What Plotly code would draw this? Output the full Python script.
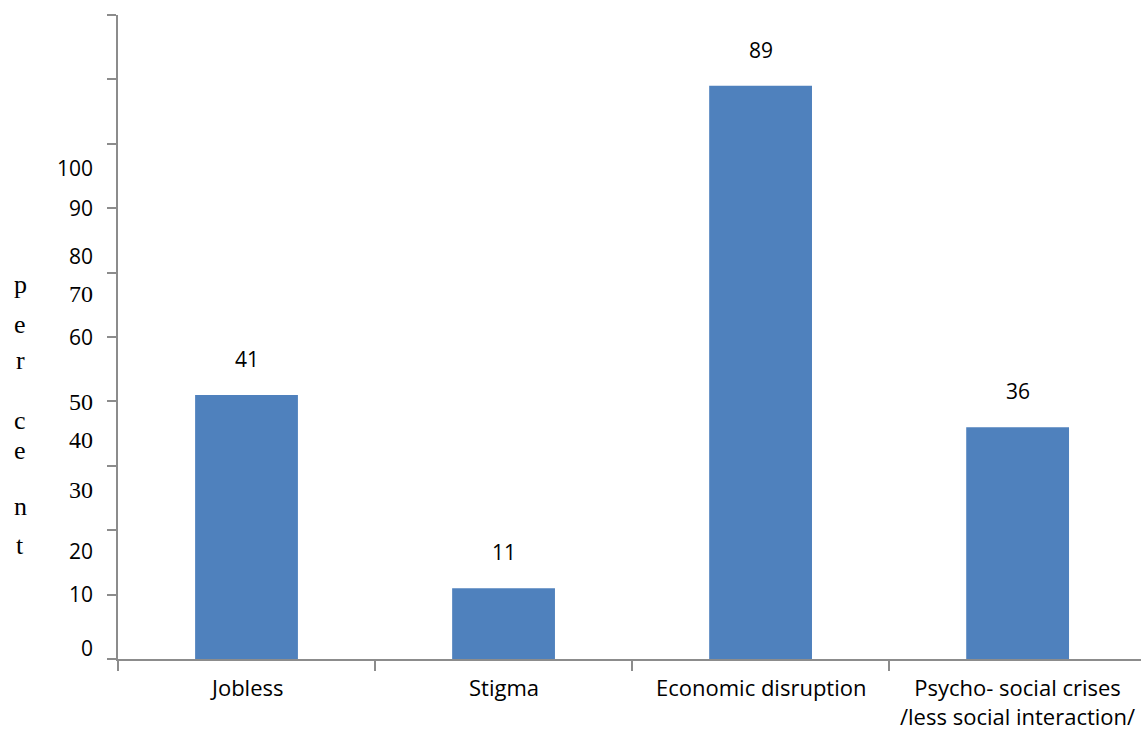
import plotly.graph_objects as go

categories = ["Jobless", "Stigma", "Economic disruption",
              "Psycho- social crises<br>/less social interaction/"]
values = [41, 11, 89, 36]
tick_labels = ["0", "10", "20", "30", "40", "50", "60", "70", "80", "90", "100"]
axis_title = "percent"

# where the (misplaced) tick labels sit in the source picture, in data units
tick_label_pos = [1.7, 10.1, 16.8, 26.2, 34.0, 39.9, 50.0, 56.7, 62.6, 70.0, 76.2]
tick_label_serif = [False, False, False, True, True, True, False, True, False, False, False]
# vertical positions (paper units) of the stacked letters of the axis title
title_letter_pos = [0.581, 0.519, 0.464, 0.371, 0.298, 0.211, 0.151]

AXIS = "#8c8c8c"
BAR = "#4F81BD"
SANS = "Open Sans"
SERIF = "Liberation Serif"

fig = go.Figure()
fig.add_trace(go.Bar(
    x=categories, y=values, marker=dict(color=BAR, line=dict(width=0)),
    width=0.4, showlegend=False, hoverinfo="skip",
))

annotations = []
for c, v in zip(categories, values):
    annotations.append(dict(x=c, y=v, text=str(v), showarrow=False, xref="x", yref="y",
                            yshift=36, font=dict(family=SANS, size=21, color="#000")))
for lbl, pos, serif in zip(tick_labels, tick_label_pos, tick_label_serif):
    annotations.append(dict(x=0, y=pos, text=lbl, showarrow=False, xref="paper", yref="y",
                            xanchor="right", xshift=-23,
                            font=dict(family=SERIF if serif else SANS,
                                      size=24 if serif else 21, color="#000")))
for ch, pos in zip(axis_title, title_letter_pos):
    annotations.append(dict(x=0, y=pos, text=ch, showarrow=False, xref="paper", yref="paper",
                            xanchor="center", xshift=-98,
                            font=dict(family=SERIF, size=26, color="#000")))

fig.update_layout(
    width=1141, height=732,
    margin=dict(l=118, r=0, t=15, b=73),
    plot_bgcolor="white", paper_bgcolor="white",
    annotations=annotations,
    xaxis=dict(
        range=[-0.5, 3.48], showgrid=False, showline=True, linecolor=AXIS, linewidth=1.5,
        ticks="outside", ticklen=10, tickcolor=AXIS, tickwidth=1.5,
        tickmode="array", tickvals=[-0.5, 0.5, 1.5, 2.5], ticktext=["", "", "", ""],
        zeroline=False, fixedrange=True,
    ),
    yaxis=dict(
        range=[0, 100], showgrid=False, showline=True, linecolor=AXIS, linewidth=1.5,
        ticks="outside", ticklen=9, tickcolor=AXIS, tickwidth=1.5,
        tickmode="array", tickvals=list(range(0, 101, 10)), showticklabels=False,
        zeroline=False, fixedrange=True,
    ),
)

# category labels as annotations below the axis
for c in categories:
    fig.add_annotation(x=c, y=0, xref="x", yref="y", text=c, showarrow=False,
                       yanchor="top", yshift=-11, align="center",
                       font=dict(family=SANS, size=22, color="#000"))

fig.write_html("out.html")
